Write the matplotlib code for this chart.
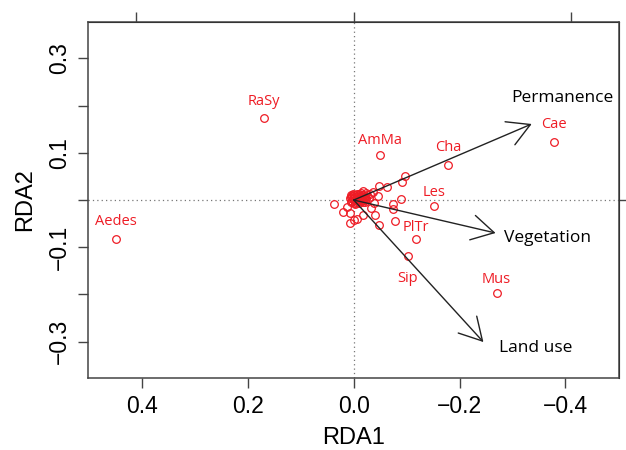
import numpy as np
import matplotlib
matplotlib.use("Agg")
import matplotlib.pyplot as plt

# species scores (RDA1, RDA2)
species = ["Aedes", "RaSy", "AmMa", "Cha", "Cae", "Les", "PlTr", "Sip", "Mus"]
sp_x = [0.450, 0.169, -0.050, -0.178, -0.379, -0.151, -0.118, -0.102, -0.270]
sp_y = [-0.083, 0.174, 0.095, 0.074, 0.123, -0.013, -0.083, -0.119, -0.198]
# label offsets in points (dx, dy)
lab_off = [(0, 12.5), (0, 12), (0, 10.5), (0, 13), (0, 12.5), (0, 10), (0, 8.5), (0, -16), (0, 10)]

# unlabelled species around the origin
other_x = [-0.097, -0.091, -0.062, -0.047, -0.089, -0.075, -0.075, -0.078, -0.047,
           -0.040, -0.038, -0.036, 0.038, 0.013, 0.021, 0.008, -0.017, 0.000,
           0.008, -0.006, -0.032, -0.024, -0.018, -0.045,
           0.002, -0.003, -0.008, -0.012, -0.015, -0.020, -0.025, -0.005, 0.004,
           -0.010, -0.018, -0.022, -0.028, 0.000, -0.006, -0.014, 0.006, -0.030,
           -0.002, -0.016,
           0.008, 0.004, 0.000, -0.004, -0.008, -0.012, -0.016, -0.020, -0.024,
           0.006, 0.002, -0.002, -0.006, -0.010, -0.014, -0.018, -0.022, 0.005,
           0.001, -0.009, -0.013, -0.017, -0.021]
other_y = [0.050, 0.039, 0.027, 0.030, 0.002, -0.008, -0.019, -0.044, -0.053,
           -0.032, -0.007, 0.018, -0.008, -0.015, -0.025, -0.028, -0.032, -0.042,
           -0.049, -0.040, -0.017, 0.014, 0.020, 0.008,
           0.002, 0.006, 0.004, 0.008, 0.002, 0.006, 0.010, -0.004, -0.002,
           -0.006, -0.004, 0.000, 0.004, 0.010, 0.012, 0.014, 0.006, 0.012,
           -0.008, 0.010,
           0.004, 0.008, 0.000, 0.002, -0.002, 0.006, 0.000, 0.004, 0.002,
           -0.004, 0.012, -0.006, 0.008, 0.002, -0.002, 0.010, 0.006, 0.010,
           0.004, 0.012, 0.006, 0.000, -0.004]

# environmental variables (biplot scores, arrow scale)
env = ["Permanence", "Vegetation", "Land use"]
env_x = [-0.818, -0.652, -0.596]
env_y = [0.392, -0.170, -0.732]
env_off = [(-15, 19), (6, -3.5), (11, -4.5)]
arrow_mul = 0.411

red = "#ee1c25"
grey = "#444444"

fig = plt.figure(figsize=(6.26, 4.5), dpi=100)
ax = fig.add_axes([0.1406, 0.16, 0.849, 0.791])
ax.set_xlim(0.502, -0.502)
ax.set_ylim(-0.377, 0.377)

ax.axhline(0, color="#777777", lw=0.9, ls=(0, (1, 2.5)), zorder=1)
ax.axvline(0, color="#777777", lw=0.9, ls=(0, (1, 2.5)), zorder=1)

ax.plot(other_x, other_y, "o", ms=5.5, mfc="none", mec=red, mew=0.9, zorder=3)
ax.plot(sp_x, sp_y, "o", ms=5.5, mfc="none", mec=red, mew=0.9, zorder=3)
for name, x, y, off in zip(species, sp_x, sp_y, lab_off):
    ax.annotate(name, (x, y), xytext=off, textcoords="offset points",
                ha="center", va="center", color=red, fontsize=10.5,
                family="Open Sans")

for name, x, y, off in zip(env, env_x, env_y, env_off):
    tx, ty = x * arrow_mul, y * arrow_mul
    ax.annotate("", xy=(tx, ty), xytext=(0, 0),
                arrowprops=dict(arrowstyle="->,head_length=0.8,head_width=0.45",
                                mutation_scale=20, color="#222222", lw=1.0,
                                shrinkA=0, shrinkB=0), zorder=4)
    ax.annotate(name, (tx, ty), xytext=off, textcoords="offset points",
                ha="left", va="center", color="black", fontsize=12.5,
                family="Open Sans")

ax.set_xticks([0.4, 0.2, 0.0, -0.2, -0.4])
ax.set_yticks([0.3, 0.2, 0.1, 0.0, -0.1, -0.2, -0.3])
ax.set_yticklabels(["0.3", "", "0.1", "", "\u22120.1", "", "\u22120.3"],
                   rotation=90, va="center")
ax.tick_params(direction="out", length=7.5, width=1, color=grey,
               labelsize=16.5, pad=5)
for lab in ax.get_xticklabels() + ax.get_yticklabels():
    lab.set_family("Liberation Sans")
ax.set_xlabel("RDA1", fontsize=17, family="Liberation Sans", labelpad=6)
ax.set_ylabel("RDA2", fontsize=17, family="Liberation Sans", labelpad=8)

for s in ax.spines.values():
    s.set_color(grey)
    s.set_linewidth(1.1)

topax = ax.secondary_xaxis("top", functions=(lambda v: v / arrow_mul,
                                             lambda v: v * arrow_mul))
topax.set_xticks([-1, 0, 1])
topax.set_xticklabels([])
topax.tick_params(direction="out", length=7.5, width=1, color=grey)
rax = ax.secondary_yaxis("right", functions=(lambda v: v / arrow_mul,
                                             lambda v: v * arrow_mul))
rax.set_yticks([-1, 0, 1])
rax.set_yticklabels([])
rax.tick_params(direction="out", length=7.5, width=1, color=grey)

fig.savefig("out.png", dpi=100)
